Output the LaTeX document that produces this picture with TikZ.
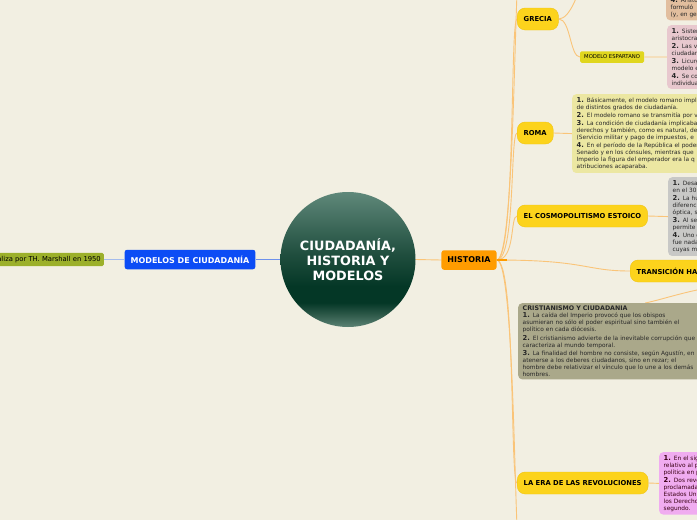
\documentclass[tikz,border=0pt]{standalone}
\usepackage{fontspec}
\setmainfont{DejaVu Sans}
\usepackage{xcolor}
\usetikzlibrary{positioning, backgrounds}
\definecolor{paper}{RGB}{242,239,226}
\definecolor{orbTop}{RGB}{95,136,122}
\definecolor{orbMid}{RGB}{32,78,62}
\definecolor{orbDeep}{RGB}{4,55,38}
\definecolor{orbRim}{RGB}{42,86,70}
\definecolor{orbLow}{RGB}{92,130,116}
\definecolor{modBlue}{RGB}{12,76,245}
\definecolor{paleBlue}{RGB}{165,188,236}
\definecolor{midBlue}{RGB}{110,145,235}
\definecolor{marshGreen}{RGB}{156,176,42}
\definecolor{histOrange}{RGB}{255,156,0}
\definecolor{linkOrange}{RGB}{250,196,120}
\definecolor{eraYellow}{RGB}{252,211,28}
\definecolor{eraEdge}{RGB}{240,196,20}
\definecolor{tagYellow}{RGB}{224,214,30}
\definecolor{tanFill}{RGB}{226,190,158}
\definecolor{pinkFill}{RGB}{232,200,206}
\definecolor{romaFill}{RGB}{236,231,162}
\definecolor{stoaFill}{RGB}{200,200,198}
\definecolor{cristFill}{RGB}{170,168,138}
\definecolor{revoFill}{RGB}{240,172,240}
\definecolor{noteInk}{RGB}{40,40,40}
\pgfdeclareverticalshading{orbshade}{100bp}{color(0bp)=(orbLow); color(25bp)=(orbLow); color(30bp)=(orbRim); color(34bp)=(orbDeep); color(40bp)=(orbDeep); color(52bp)=(orbMid); color(75bp)=(orbTop); color(100bp)=(orbTop)}
\tikzset{
  core/.style={
    circle, minimum size=135pt, inner sep=0pt,
    shading=orbshade, text=white, align=center,
    font={\fontsize{12.8}{15}\selectfont\bfseries}
  },
  branch/.style={
    rectangle, rounded corners=2.5pt,
    minimum height=19.5pt, inner xsep=6pt,
    font={\fontsize{8}{9}\selectfont\bfseries}
  },
  era/.style={
    rectangle, rounded corners=8pt, anchor=west,
    fill=eraYellow, draw=eraEdge, line width=.4pt,
    minimum height=22pt, inner xsep=6.5pt,
    font={\fontsize{6.8}{8}\selectfont\bfseries}
  },
  tag/.style={
    rectangle, rounded corners=1.5pt, anchor=west,
    fill=tagYellow, minimum height=11.5pt, inner xsep=4pt,
    font={\fontsize{5.3}{6}\selectfont}
  },
  note/.style={
    rectangle, rounded corners=4pt, align=left,
    inner xsep=4.5pt, inner ysep=3pt, text=noteInk,
    font={\fontsize{5.85}{7}\selectfont}
  },
  link/.style={draw=linkOrange, line width=.9pt},
}
\newcommand{\itemno}[1]{{\fontsize{6.8}{7}\selectfont\bfseries #1.}}

\begin{document}
\begin{tikzpicture}[x=1pt, y=-1pt]
  \useasboundingbox (0,0) rectangle (697,520);

  \node[core] (core) at (348,259.5) {CIUDADANÍA,\\HISTORIA Y\\ MODELOS};
  \node[branch, fill=modBlue, text=white] (modelos) at (190,259.5) {MODELOS DE CIUDADANÍA};
  \node[branch, fill=marshGreen, rounded corners=1.5pt, minimum height=13pt,
        inner xsep=3pt, anchor=east, font={\fontsize{6.8}{8}\selectfont}]
                         (marshall) at (104,259.5) {aliza por TH. Marshall en 1950};
  \node[branch, fill=histOrange] (historia) at (469,260) {HISTORIA};

  \node[era] (grecia)  at (517,19)  {GRECIA};
  \node[era] (roma)    at (517,133) {ROMA};
  \node[era] (estoico) at (517,216) {EL COSMOPOLITISMO ESTOICO};
  \node[era] (transic) at (630,271) {TRANSICIÓN HAC};
  \node[era] (revol)   at (517,483) {LA ERA DE LAS REVOLUCIONES};
  \node[tag] (sparta)  at (580,57)  {MODELO ESPARTANO};

  \node[note, fill=tanFill, anchor=south west, text width=60pt] (tanbox) at (666,20.5)
    {\itemno{4} Aristó\\ formuló\\ (y, en ge};
  \node[note, fill=pinkFill, anchor=north west, text width=60pt] (spartabox) at (667,25)
    {\itemno{1} Sistem\\ aristocra\\[1.2pt]
     \itemno{2} Las vi\\ ciudadan\\[1.2pt]
     \itemno{3} Licurg\\ modelo e\\[1.2pt]
     \itemno{4} Se con\\ individua};
  \node[note, fill=romaFill, anchor=north west, text width=160pt] (romabox) at (572,94)
    {\itemno{1} Básicamente, el modelo romano impl\\
     de distintos grados de ciudadanía.\\[1.2pt]
     \itemno{2} El modelo romano se transmitía por v\\[1.2pt]
     \itemno{3} La condición de ciudadanía implicaba\\
     derechos y también, como es natural, de\\
     (Servicio militar y pago de impuestos, e\\[1.2pt]
     \itemno{4} En el período de la República el poder\\
     Senado y en los cónsules, mientras que\\
     Imperio la figura del emperador era la q\\
     atribuciones acaparaba.};
  \node[note, fill=stoaFill, anchor=north west, text width=60pt] (stoabox) at (668,177)
    {\itemno{1} Desar\\ en el 30\\[1.2pt]
     \itemno{2} La hu\\ diferenc\\ óptica, s\\[1.2pt]
     \itemno{3} Al ser\\ permite\\[1.2pt]
     \itemno{4} Uno d\\ fue nada\\ cuyas m};
  \node[note, fill=cristFill, anchor=north west, text width=245pt] (cristbox) at (518,303)
    {{\fontsize{6.3}{7}\selectfont\bfseries CRISTIANISMO Y CIUDADANIA}\\
     \itemno{1} La caída del Imperio provocó que los obispos\\
     asumieran no sólo el poder espiritual sino también el\\
     político en cada diócesis.\\[1.2pt]
     \itemno{2} El cristianismo advierte de la inevitable corrupción que\\
     caracteriza al mundo temporal.\\[1.2pt]
     \itemno{3} La finalidad del hombre no consiste, según Agustín, en\\
     atenerse a los deberes ciudadanos, sino en rezar; el\\
     hombre debe relativizar el vínculo que lo une a los demás\\
     hombres.};
  \node[note, fill=revoFill, anchor=north west, text width=60pt, text=black!70!purple] (revobox) at (659,452)
    {\itemno{1} En el sig\\ relativo al p\\ política en p\\[1.2pt]
     \itemno{2} Dos revo\\ proclamada\\ Estados Un\\ los Derecho\\ segundo.};

  \coordinate (upper)    at (520,-40);
  \coordinate (lower)    at (520,560);
  \coordinate (athens)   at (583,-20);
  \coordinate (offright) at (740,284);

  \begin{scope}[on background layer]
    \fill[paper] (0,0) rectangle (697,520);
    \draw[midBlue, line width=1pt] (core.west) -- (modelos.east);
    \draw[paleBlue, line width=1pt] (modelos.west) -- (marshall.east);
    \draw[link] (core.east) -- (historia.west);
    \draw[link] (historia.east) .. controls +(19,0) and +(-6,0) .. (upper);
    \draw[link] (historia.east) .. controls +(19,0) and +(-7,0) .. (grecia.west);
    \draw[link] (historia.east) .. controls +(19,0) and +(-7,0) .. (roma.west);
    \draw[link] (historia.east) .. controls +(19,0) and +(-7,0) .. (estoico.west);
    \draw[link] (historia.east) .. controls +(90,0) and +(-45,0) .. (transic.west);
    \draw[link] (historia.east) .. controls +(19,0) and +(-7,0) .. (revol.west);
    \draw[link] (historia.east) .. controls +(19,0) and +(-6,0) .. (lower);
    \draw[histOrange, line width=1.6pt] (historia.east) -- +(10,0);
    \draw[link] (grecia.east) .. controls +(12,0) and +(-4,10) .. (athens);
    \draw[link] (grecia.east) .. controls +(12,0) and +(-10,0) .. (sparta.west);
    \draw[link] (sparta.east) -- (spartabox.west);
    \draw[link] (roma.east) -- (romabox.west);
    \draw[link] (estoico.east) -- (stoabox.west);
    \draw[link] (revol.east) -- (revobox.west);
    \draw[link] (offright) .. controls +(-40,2) and +(20,-4) .. (cristbox.north);
  \end{scope}
\end{tikzpicture}
\end{document}
